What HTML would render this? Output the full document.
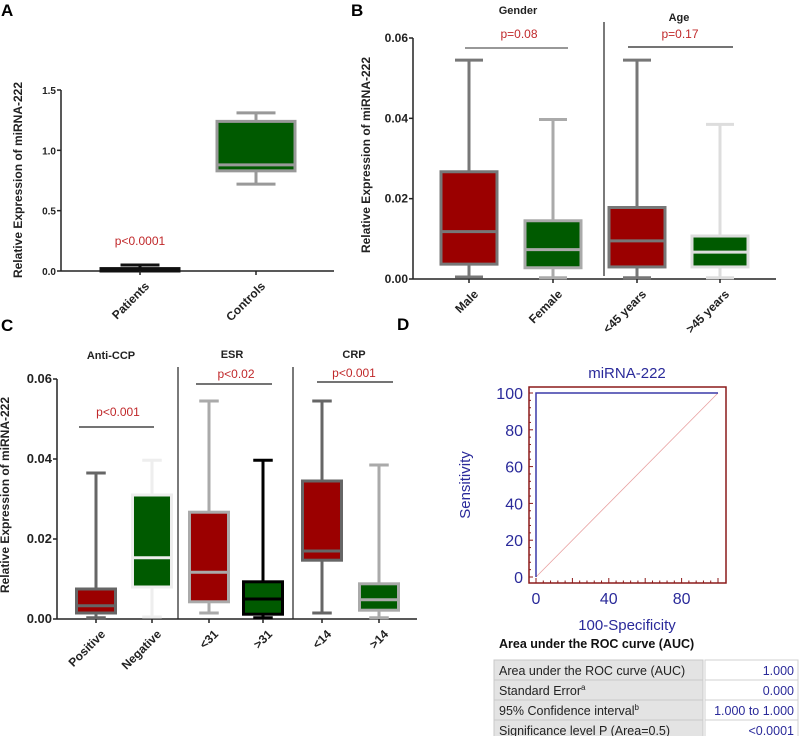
<!DOCTYPE html>
<html><head><meta charset="utf-8"><style>
body{margin:0;background:#fff;}
svg{display:block;font-family:"Liberation Sans",Arial,sans-serif;}
</style></head><body>
<svg id="s" width="800" height="736" viewBox="0 0 800 736" xmlns="http://www.w3.org/2000/svg">
<g font-weight="bold" font-size="17">
<text x="1" y="16">A</text>
<text x="351" y="16">B</text>
<text x="1" y="331">C</text>
<text x="397" y="330">D</text>
</g>
<g id="gA"></g>
<g id="gB"></g>
<g id="gC"></g>
<g id="gD"></g>
</svg>
<script>
// Panel A data
const aCats=["Patients","Controls"];
const aMin=[0.0,0.72],aQ1=[0.0,0.83],aMed=[0.01,0.88],aQ3=[0.02,1.24],aMax=[0.05,1.31];
const aTicks=[0,0.5,1.0,1.5];
// Panel B data
const bCats=["Male","Female","<45 years",">45 years"];
const bMin=[0.0005,0.0003,0.0003,0.0003],bQ1=[0.0037,0.0028,0.003,0.003],bMed=[0.0118,0.0073,0.0095,0.0067],bQ3=[0.0267,0.0145,0.0178,0.0107],bMax=[0.0545,0.0397,0.0545,0.0385];
const bTicks=[0,0.02,0.04,0.06];
// Panel C data
const cCats=["Positive","Negative","<31",">31","<14",">14"];
const cMin=[0.0003,0.0005,0.0015,0.0003,0.0015,0.0003],cQ1=[0.0015,0.008,0.0043,0.0012,0.0147,0.0022],cMed=[0.0033,0.0153,0.0117,0.005,0.017,0.0048],cQ3=[0.0075,0.031,0.0267,0.0093,0.0345,0.0088],cMax=[0.0365,0.0397,0.0545,0.0397,0.0545,0.0385];
const cTicks=[0,0.02,0.04,0.06];
// Panel D data
const rocX=[0,0,100],rocY=[0,100,100];
const dTicksY=[0,20,40,60,80,100],dTicksX=[0,40,80];
const tblLabels=["Area under the ROC curve (AUC)","Standard Error","95% Confidence interval","Significance level P (Area=0.5)"];
const tblSup=["","a","b",""];
const tblVals=["1.000","0.000","1.000 to 1.000","<0.0001"];

const NS="http://www.w3.org/2000/svg";
function el(p,t,a,txt){const e=document.createElementNS(NS,t);for(const k in a)e.setAttribute(k,a[k]);if(txt!==undefined)e.textContent=txt;p.appendChild(e);return e;}

function boxPanel(g,o){
  const ys=v=>o.y0+(o.y1-o.y0)*(v-o.dmin)/(o.dmax-o.dmin);
  const ax=el(g,'line',{x1:o.ax,y1:o.y1,x2:o.ax,y2:ys(o.dmin),stroke:'#222','stroke-width':1.5});
  
  const xa=el(g,'line',{x1:o.ax,y1:o.y0,x2:o.xend,y2:o.y0,stroke:'#222','stroke-width':1.5});
  
  o.ticks.forEach((t,i)=>{
    const y=ys(t);
    el(g,'line',{x1:o.ax-4,y1:y,x2:o.ax,y2:y,stroke:'#222','stroke-width':1.5});
    const tx=el(g,'text',{x:o.ax-5,y:y+4,'text-anchor':'end','font-size':o.tfs,'font-weight':'bold',fill:'#222'},o.fmt(t));
    
  });
  o.cats.forEach((c,i)=>{
    const x=o.xs[i],w=o.bw,st=o.strokes[i],sw=o.sw;
    const bg=el(g,'g',{});
    
    
    el(bg,'line',{x1:x,y1:ys(o.max[i]),x2:x,y2:ys(o.q3[i]),stroke:st,'stroke-width':sw});
    el(bg,'line',{x1:x,y1:ys(o.min[i]),x2:x,y2:ys(o.q1[i]),stroke:st,'stroke-width':sw});
    el(bg,'line',{x1:x-w/4,y1:ys(o.max[i]),x2:x+w/4,y2:ys(o.max[i]),stroke:st,'stroke-width':sw});
    el(bg,'line',{x1:x-w/4,y1:ys(o.min[i]),x2:x+w/4,y2:ys(o.min[i]),stroke:st,'stroke-width':sw});
    const top=ys(o.q3[i]),bot=ys(o.q1[i]);
    el(bg,'rect',{x:x-w/2,y:top,width:w,height:Math.max(bot-top,1),fill:o.fills[i],stroke:st,'stroke-width':sw});
    el(bg,'line',{x1:x-w/2,y1:ys(o.med[i]),x2:x+w/2,y2:ys(o.med[i]),stroke:st,'stroke-width':sw});
    el(g,'line',{x1:x,y1:o.y0,x2:x,y2:o.y0+4,stroke:'#222','stroke-width':1.5});
    const lx=x+4,ly=o.y0+10;
    const tl=el(g,'text',{x:lx,y:ly,'text-anchor':'end','font-size':o.lfs,'font-weight':'bold',fill:'#222',transform:`rotate(-45 ${lx} ${ly})`,dy:'0.7em'},c);
    
  });
  const yl=el(g,'text',{x:o.ylx,y:o.yly,'text-anchor':'middle','font-size':12,'font-weight':'bold',fill:'#222',transform:`rotate(-90 ${o.ylx} ${o.yly})`},'Relative Expression of miRNA-222');
  
}
const RED='#9b0000',GRN='#005a00';
boxPanel(document.getElementById('gA'),{cats:aCats,min:aMin,q1:aQ1,med:aMed,q3:aQ3,max:aMax,ticks:aTicks,
  dmin:0,dmax:1.5,y0:271,y1:90,ax:61,xend:334,xs:[140,256],bw:78,sw:3,tfs:10,lfs:12,
  strokes:['#111','#999'],fills:['#111',GRN],fmt:t=>t.toFixed(1),ylx:22,yly:180});
boxPanel(document.getElementById('gB'),{cats:bCats,min:bMin,q1:bQ1,med:bMed,q3:bQ3,max:bMax,ticks:bTicks,
  dmin:0,dmax:0.06,y0:279,y1:38,ax:413,xend:776,xs:[469,553,637,720],bw:56,sw:3,tfs:12,lfs:12,
  strokes:['#777','#aaa','#777','#ddd'],fills:[RED,GRN,RED,GRN],fmt:t=>t.toFixed(2),ylx:370,yly:155});
boxPanel(document.getElementById('gC'),{cats:cCats,min:cMin,q1:cQ1,med:cMed,q3:cQ3,max:cMax,ticks:cTicks,
  dmin:0,dmax:0.06,y0:619,y1:379,ax:57,xend:417,xs:[96,152,209,263,322,379],bw:39,sw:3,tfs:13,lfs:12,
  strokes:['#666','#eee','#aaa','#000','#666','#aaa'],fills:[RED,GRN,RED,GRN,RED,GRN],fmt:t=>t.toFixed(2),ylx:9,yly:495});

function ann(g,name,tx,ty,t,col,size,bold){const e=el(g,'text',{x:tx,y:ty,'text-anchor':'middle','font-size':size,fill:col,'font-weight':bold?'bold':'normal'},t);return e;}
function sline(g,name,x1,y1,x2,y2,c,w){const e=el(g,'line',{x1,y1,x2,y2,stroke:c,'stroke-width':w});}
const gA=document.getElementById('gA'),gB=document.getElementById('gB'),gC=document.getElementById('gC'),gD=document.getElementById('gD');
ann(gA,'p-value',140,245,'p<0.0001','#c0282a',12);
ann(gB,'group-title-gender',518,14,'Gender','#222',11,true);
ann(gB,'group-title-age',679,21,'Age','#222',11,true);
ann(gB,'p-value-gender',519,38,'p=0.08','#c0282a',12);
ann(gB,'p-value-age',680,38,'p=0.17','#c0282a',12);
sline(gB,'sig-bar-gender',465,48,568,48,'#777',1.5);
sline(gB,'sig-bar-age',628,47,733,47,'#222',1.2);
sline(gB,'group-divider',604,22,604,276,'#222',1.2);
ann(gC,'group-title-anticcp',111,359,'Anti-CCP','#222',11,true);
ann(gC,'group-title-esr',232,358,'ESR','#222',11,true);
ann(gC,'group-title-crp',354,358,'CRP','#222',11,true);
ann(gC,'p-value-anticcp',118,416,'p<0.001','#c0282a',12);
ann(gC,'p-value-esr',236,378,'p<0.02','#c0282a',12);
ann(gC,'p-value-crp',354,377,'p<0.001','#c0282a',12);
sline(gC,'sig-bar-anticcp',79,427,154,427,'#222',1.2);
sline(gC,'sig-bar-esr',196,384,272,384,'#222',1.2);
sline(gC,'sig-bar-crp',317,382,393,382,'#222',1.2);
sline(gC,'group-divider-1',178,367,178,619,'#222',1.2);
sline(gC,'group-divider-2',293,367,293,619,'#222',1.2);

const dx=v=>536+(718-536)*v/100, dy=v=>577-(577-393)*v/100;
const BLUE='#2a2a9a',MAR='#8b1a1a';
const frame=el(gD,'rect',{x:529,y:387,width:197,height:196,fill:'none',stroke:MAR,'stroke-width':1.5});

for(let v=0;v<=100;v+=4){const big=v%20===0;
 el(gD,'line',{x1:529,y1:dy(v),x2:529+(big?4:2),y2:dy(v),stroke:MAR,'stroke-width':1});
 el(gD,'line',{x1:dx(v),y1:583,x2:dx(v),y2:583-(big?5:2.5),stroke:MAR,'stroke-width':1});}
dTicksY.forEach(v=>{const t=el(gD,'text',{x:523,y:dy(v)+6,'text-anchor':'end','font-size':16,fill:BLUE},String(v));});
dTicksX.forEach(v=>{const t=el(gD,'text',{x:dx(v),y:604,'text-anchor':'middle','font-size':16,fill:BLUE},String(v));});
const diag=el(gD,'line',{x1:dx(0),y1:dy(0),x2:dx(100),y2:dy(100),stroke:'#e8a0a0','stroke-width':0.8});

const roc=el(gD,'polyline',{points:rocX.map((x,i)=>dx(x)+','+dy(rocY[i])).join(' '),fill:'none',stroke:'#3a3aa8','stroke-width':1.5});

ann(gD,'chart-title',627,378,'miRNA-222',BLUE,15);
ann(gD,'x-axis-title',627,630,'100-Specificity',BLUE,15);
const sy=el(gD,'text',{x:470,y:485,'text-anchor':'middle','font-size':15,fill:BLUE,transform:'rotate(-90 470 485)'},'Sensitivity');

const tt=el(gD,'text',{x:499,y:648,'font-size':12.5,'font-weight':'bold',fill:'#111'},'Area under the ROC curve (AUC)');

tblLabels.forEach((l,i)=>{const y=660+i*20;
 const r=el(gD,'g',{});
 el(r,'rect',{x:494,y:y,width:209,height:20,fill:'#e3e3e3',stroke:'#c8c8c8','stroke-width':1});
 el(r,'rect',{x:705,y:y,width:93,height:20,fill:'#fff',stroke:'#d0d0d0','stroke-width':1});
 const t=el(r,'text',{x:499,y:y+15,'font-size':12.5,fill:'#222'},l);
 if(tblSup[i]){el(t,'tspan',{'font-size':8,dy:-5},tblSup[i]);}
 el(r,'text',{x:794,y:y+15,'text-anchor':'end','font-size':12.5,fill:BLUE},tblVals[i]);
});
</script>
</body></html>
